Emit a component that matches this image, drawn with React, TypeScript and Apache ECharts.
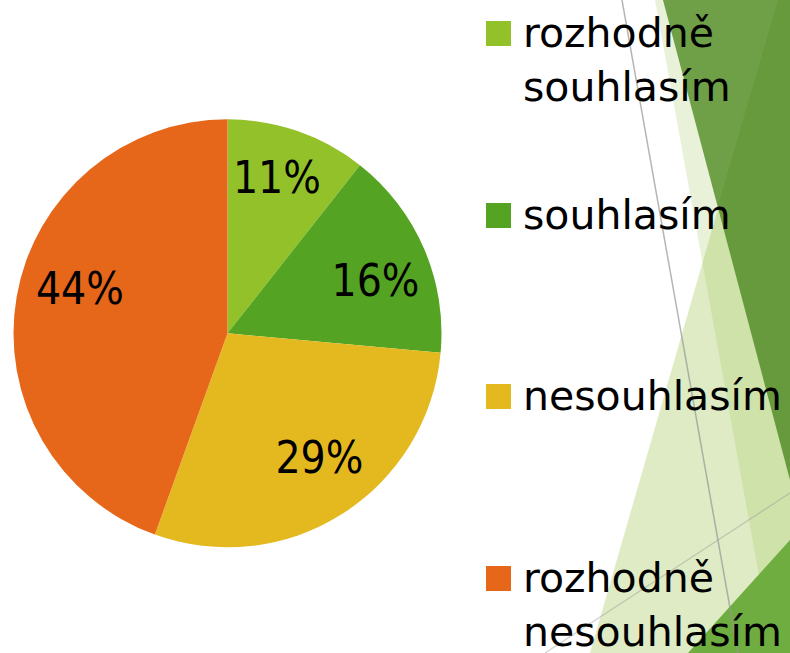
import React, { useEffect, useRef } from "react";
import * as echarts from "echarts";

const categories = ["rozhodně souhlasím", "souhlasím", "nesouhlasím", "rozhodně nesouhlasím"];
const legendLines = [["rozhodně", "souhlasím"], ["souhlasím"], ["nesouhlasím"], ["rozhodně", "nesouhlasím"]];
const values = [10.6, 15.8, 29.0, 44.4];
const colors = ["#92C12A", "#55A322", "#E4B91F", "#E6661A"];
// style only: nudges to mimic the original's label placement
const labelOffsets = [[-3, -5], [1, 10], [6, -11], [10, -17]];

const LABEL_FONT = "'Liberation Sans Narrow', 'DejaVu Sans Condensed', 'Liberation Sans', sans-serif";
const LEGEND_FONT = "'DejaVu Sans', sans-serif";

export default function App() {
  const ref = useRef<HTMLDivElement>(null);
  useEffect(() => {
    if (!ref.current) return;
    const chart = echarts.init(ref.current, null, { renderer: "svg" });
    const data = categories.map((name, i) => ({ name, value: values[i], itemStyle: { color: colors[i] } }));

    const legendTops = [21, 203, 384, 566];
    const legendGraphics: any[] = [];
    legendLines.forEach((lines, i) => {
      legendGraphics.push({
        type: "rect",
        z: 20,
        shape: { x: 486, y: legendTops[i], width: 25, height: 25 },
        style: { fill: colors[i] },
      });
      lines.forEach((ln, j) => {
        legendGraphics.push({
          type: "text",
          z: 20,
          x: 523,
          y: legendTops[i] + 12 + j * 54,
          style: {
            text: ln,
            font: `41px ${LEGEND_FONT}`,
            fill: "#000000",
            verticalAlign: "middle",
            align: "left",
          },
        });
      });
    });

    const bg: any[] = [
      { type: "polygon", z: 1, shape: { points: [[655, 0], [790, 0], [790, 653], [773, 653]] }, style: { fill: "rgba(146,190,60,0.2)" } },
      { type: "polygon", z: 2, shape: { points: [[590, 653], [735, 150], [790, 300], [790, 653]] }, style: { fill: "rgba(146,190,60,0.3)" } },
      { type: "polygon", z: 3, shape: { points: [[663, 0], [790, 0], [790, 480]] }, style: { fill: "#679A3C" } },
      { type: "polygon", z: 4, shape: { points: [[663, 0], [778, 0], [717, 209]] }, style: { fill: "rgba(255,255,255,0.06)" } },
      { type: "polygon", z: 5, shape: { points: [[790, 540], [790, 653], [688, 653]] }, style: { fill: "#70AD40" } },
      { type: "line", z: 6, shape: { x1: 622, y1: 0, x2: 738, y2: 653 }, style: { stroke: "rgba(150,150,150,0.7)", lineWidth: 1.5 } },
      { type: "line", z: 6, shape: { x1: 545, y1: 653, x2: 790, y2: 493 }, style: { stroke: "rgba(150,150,150,0.45)", lineWidth: 1.2 } },
    ];

    chart.setOption({
      animation: false,
      backgroundColor: "#ffffff",
      graphic: { elements: [...bg, ...legendGraphics] },
      series: [
        {
          type: "pie",
          center: [227.5, 333.3],
          radius: [0, 214],
          startAngle: 90,
          clockwise: true,
          silent: true,
          label: { show: false },
          labelLine: { show: false },
          data,
        },
        {
          type: "pie",
          center: [227.5, 333.3],
          radius: [100, 214],
          startAngle: 90,
          clockwise: true,
          silent: true,
          z: 3,
          itemStyle: { color: "rgba(0,0,0,0)" },
          label: {
            show: true,
            position: "inside",
            formatter: (p: any) => `${Math.round(p.percent)}%`,
            fontFamily: LABEL_FONT,
            fontSize: 44,
            color: "#000000",
          },
          labelLine: { show: false },
          data: categories.map((name, i) => ({
            name,
            value: values[i],
            itemStyle: { color: "rgba(0,0,0,0)" },
            label: { offset: labelOffsets[i] },
          })),
        },
      ],
    });
    return () => chart.dispose();
  }, []);
  return <div ref={ref} style={{ position: "fixed", left: 0, top: 0, width: 790, height: 653 }} />;
}
